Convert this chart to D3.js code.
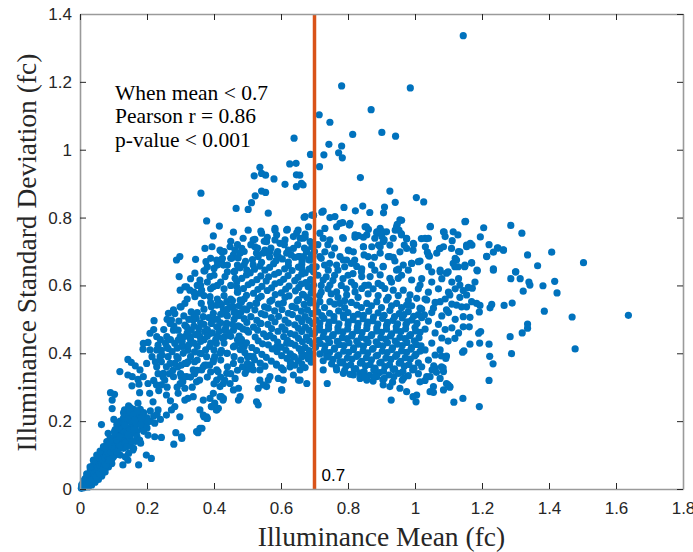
<!DOCTYPE html>
<html>
<head>
<meta charset="utf-8">
<script src="https://cdn.jsdelivr.net/npm/d3@7"></script>
<style>
  body { margin: 0; background: #fff; }
</style>
</head>
<body>
<svg id="chart" width="693" height="552"></svg>
<script>
// tick labels and annotation
var xTicks = [0, 0.2, 0.4, 0.6, 0.8, 1, 1.2, 1.4, 1.6, 1.8];
var yTicks = [0, 0.2, 0.4, 0.6, 0.8, 1, 1.2, 1.4];
var cutoff = 0.7;
var noteLines = ["When mean < 0.7", "Pearson r = 0.86", "p-value < 0.001"];

// [mean, sd], grouped by region
var wedgePts = [[0.004,0.002],[0.006,0.007],[0.005,0.012],[0.01,0.004],[0.011,0.011],[0.009,0.018],[0.015,0.006],[0.014,0.014],[0.016,0.022],[0.015,0.030],
  [0.02,0.008],[0.021,0.017],[0.019,0.026],[0.02,0.036],[0.025,0.012],[0.026,0.022],[0.024,0.032],[0.025,0.043],[0.03,0.015],[0.031,0.026],[0.029,0.037],[0.03,0.048],[0.031,0.058],
  [0.035,0.02],[0.036,0.031],[0.034,0.043],[0.035,0.055],[0.036,0.066],[0.04,0.022],[0.041,0.035],[0.039,0.048],[0.04,0.061],[0.041,0.073],[0.045,0.028],[0.046,0.04],[0.044,0.053],[0.045,0.067],[0.046,0.08],
  [0.05,0.03],[0.051,0.045],[0.049,0.059],[0.05,0.073],[0.051,0.087],[0.055,0.036],[0.056,0.05],[0.054,0.065],[0.055,0.08],[0.056,0.094],[0.06,0.04],[0.061,0.056],[0.059,0.071],[0.06,0.086],[0.061,0.1],
  [0.065,0.047],[0.066,0.062],[0.064,0.078],[0.065,0.093],[0.066,0.108],[0.07,0.052],[0.071,0.068],[0.069,0.084],[0.07,0.1],[0.071,0.115],[0.075,0.06],[0.076,0.076],[0.074,0.092],[0.075,0.107],
  [0.08,0.066],[0.081,0.083],[0.079,0.1],[0.08,0.116],[0.081,0.13],[0.085,0.075],[0.086,0.092],[0.084,0.108],[0.085,0.124],[0.09,0.08],[0.091,0.098],[0.089,0.115],[0.09,0.132],
  [0.095,0.088],[0.096,0.106],[0.094,0.123],[0.1,0.095],[0.101,0.113],[0.099,0.13],[0.1,0.147],
  [0.02,0.045],[0.03,0.065],[0.04,0.085],[0.05,0.1],[0.06,0.112],[0.07,0.125],[0.08,0.14],[0.09,0.15],[0.105,0.16],[0.11,0.125],[0.115,0.14],[0.105,0.1],[0.095,0.075],[0.085,0.065],
  [0.075,0.05],[0.065,0.038],[0.055,0.028],[0.045,0.02],[0.035,0.012],[0.025,0.006],[0.012,0.025],[0.008,0.009],[0.018,0.012],[0.028,0.02],[0.038,0.028],[0.048,0.036],[0.058,0.046],
  [0.068,0.057],[0.078,0.07],[0.088,0.085],[0.098,0.1],[0.108,0.115],[0.118,0.13],[0.125,0.145],[0.12,0.16]];

var lowMidPts = [[0.11,0.13],[0.12,0.14],[0.13,0.15],[0.10,0.15],[0.115,0.165],[0.125,0.175],[0.135,0.17],[0.145,0.18],[0.155,0.19],[0.165,0.185],[0.15,0.2],[0.16,0.21],[0.17,0.22],[0.14,0.22],
  [0.13,0.21],[0.12,0.2],[0.11,0.19],[0.175,0.2],[0.19,0.195],[0.185,0.18],[0.17,0.17],[0.155,0.165],[0.12,0.12],[0.105,0.135],[0.095,0.14],[0.14,0.14],[0.13,0.12],[0.15,0.13],[0.16,0.12],
  [0.12,0.1],[0.11,0.11],[0.135,0.095],[0.145,0.105],[0.2,0.21],[0.21,0.2],[0.22,0.215],[0.19,0.225],[0.18,0.235],[0.16,0.235],[0.145,0.245],
  [0.09,0.11],[0.1,0.12],[0.105,0.16],[0.115,0.145],[0.125,0.155],[0.13,0.165],[0.14,0.16],[0.15,0.175],[0.16,0.175],[0.165,0.195],[0.175,0.21],[0.18,0.19],[0.195,0.21],[0.185,0.22],
  [0.17,0.23],[0.155,0.22],[0.145,0.21],[0.135,0.2],[0.125,0.19],[0.115,0.18],[0.105,0.175],[0.13,0.225],[0.15,0.24],[0.21,0.23],[0.23,0.22],[0.24,0.205],[0.2,0.18],[0.19,0.17],
  [0.165,0.14],[0.15,0.15],[0.12,0.13],[0.135,0.135],[0.14,0.125],[0.155,0.14],[0.17,0.155],[0.095,0.125],[0.085,0.13],[0.075,0.12],[0.11,0.145]];

var lowPts = [[0.221,0.496],[0.203,0.432],[0.188,0.412],[0.143,0.382],[0.153,0.373],[0.165,0.363],[0.119,0.346],[0.143,0.336],[0.156,0.331],[0.173,0.323],[0.176,0.309],[0.155,0.304],
  [0.091,0.284],[0.103,0.279],[0.096,0.262],[0.096,0.237],[0.133,0.233],[0.148,0.228],[0.158,0.218],[0.173,0.253],[0.178,0.284],[0.064,0.190],[0.101,0.205],[0.113,0.194],[0.133,0.189],
  [0.163,0.203],[0.183,0.208],[0.203,0.198],[0.223,0.194],[0.084,0.164],[0.103,0.169],[0.118,0.154],[0.143,0.159],[0.178,0.144],[0.203,0.159],[0.223,0.154],[0.243,0.152],[0.181,0.135],
  [0.158,0.115],[0.198,0.100],[0.213,0.090],[0.175,0.071],[0.128,0.071],[0.143,0.085],[0.286,0.166],[0.304,0.149],[0.280,0.132],[0.352,0.166],[0.364,0.179],[0.370,0.213],[0.380,0.208],
  [0.392,0.243],[0.402,0.253],[0.422,0.272],[0.427,0.262],[0.407,0.233],[0.432,0.321],[0.412,0.346],[0.387,0.365],[0.402,0.390],[0.422,0.409],
  [0.293,0.282],[0.313,0.262],[0.322,0.267],[0.283,0.243],[0.258,0.277],[0.273,0.233],[0.298,0.213],[0.258,0.218],[0.233,0.233],[0.218,0.257],[0.208,0.282],[0.203,0.311],[0.228,0.307],
  [0.243,0.307],[0.253,0.321],[0.267,0.340],[0.277,0.350],[0.292,0.360],[0.302,0.365],[0.313,0.370],[0.322,0.375],[0.302,0.331],[0.313,0.297],[0.307,0.316],
  [0.233,0.424],[0.243,0.409],[0.263,0.414],[0.283,0.429],[0.293,0.439],[0.303,0.420],[0.322,0.409],[0.342,0.404],[0.362,0.399],[0.387,0.420],[0.407,0.429],[0.432,0.449],[0.432,0.468],
  [0.412,0.478],[0.392,0.488],[0.372,0.464],[0.352,0.459],[0.332,0.468],[0.313,0.483],[0.293,0.468],[0.273,0.498],[0.283,0.517],[0.302,0.537],[0.332,0.522],[0.347,0.503],[0.362,0.547],
  [0.392,0.537],[0.422,0.542],[0.437,0.513],[0.263,0.390],[0.243,0.375],[0.258,0.360],[0.233,0.340],[0.248,0.330],[0.342,0.340],[0.357,0.321],[0.372,0.365],[0.342,0.375],[0.293,0.385],[0.283,0.370],
  [0.264,0.518],[0.279,0.528],[0.299,0.537],[0.313,0.547],[0.328,0.586],[0.299,0.586],[0.313,0.596],[0.358,0.577],[0.358,0.616],[0.388,0.626],[0.398,0.596],[0.418,0.547],[0.458,0.537],
  [0.478,0.557],[0.498,0.528],[0.527,0.547],[0.537,0.488],[0.557,0.449],[0.587,0.419],[0.617,0.429],[0.637,0.390],[0.657,0.351],[0.607,0.321],[0.567,0.331],[0.517,0.390],[0.498,0.351],
  [0.458,0.370],[0.438,0.341],[0.418,0.302],[0.398,0.282],[0.368,0.262],[0.338,0.272],[0.358,0.233],[0.378,0.213],[0.408,0.233],[0.458,0.292],[0.473,0.262],[0.537,0.321],[0.557,0.302],
  [0.602,0.292],[0.677,0.311],[0.209,0.410],[0.229,0.410],[0.259,0.419],[0.239,0.390],[0.199,0.370],[0.179,0.351],[0.189,0.331],[0.229,0.360],[0.249,0.341],[0.269,0.370],[0.289,0.390],
  [0.308,0.400],[0.318,0.370],[0.279,0.331],[0.299,0.311],[0.318,0.331],[0.338,0.351],[0.358,0.400],[0.378,0.390],[0.398,0.380],[0.368,0.360],[0.408,0.351],[0.418,0.400],[0.438,0.400],
  [0.458,0.419],[0.478,0.429],[0.358,0.449],[0.388,0.459],[0.408,0.478],[0.438,0.488],[0.458,0.468],[0.478,0.478],[0.498,0.468],[0.398,0.518],[0.428,0.528],[0.448,0.537],[0.368,0.508],
  [0.338,0.498],[0.318,0.478],[0.328,0.449],[0.299,0.449],[0.279,0.468],[0.259,0.449],[0.269,0.488],[0.229,0.449],[0.209,0.459],[0.189,0.429],
  [0.378,0.790],[0.416,0.775],[0.398,0.746],[0.394,0.714],[0.373,0.709],[0.418,0.704],[0.448,0.714],[0.423,0.675],[0.458,0.690],[0.502,0.763],[0.487,0.739],[0.517,0.734],[0.542,0.754],
  [0.522,0.714],[0.557,0.729],[0.582,0.763],[0.582,0.734],[0.547,0.695],[0.562,0.695],[0.617,0.763],[0.612,0.734],[0.651,0.763],[0.637,0.744],[0.666,0.739],[0.676,0.699],[0.656,0.685],
  [0.617,0.695],[0.592,0.685],[0.288,0.675],[0.298,0.685],[0.345,0.677],[0.376,0.670],[0.370,0.643],[0.296,0.626],[0.343,0.636],
  [0.458,0.757],[0.483,0.709],[0.522,0.736],[0.540,0.760],[0.559,0.742],[0.582,0.768],[0.587,0.749],[0.619,0.765],[0.647,0.755],[0.682,0.773],[0.697,0.807],[0.672,0.742],[0.597,0.724],
  [0.552,0.704],[0.527,0.695],[0.567,0.699],[0.587,0.692],[0.622,0.704],[0.637,0.709],[0.652,0.685],[0.677,0.704],[0.692,0.714],[0.423,0.699],[0.408,0.675],[0.428,0.660],[0.453,0.680],
  [0.463,0.704],[0.478,0.695],[0.498,0.645],[0.517,0.660],[0.532,0.685],[0.373,0.643],[0.318,0.596],[0.363,0.586],[0.343,0.567],[0.388,0.567],[0.408,0.542],[0.438,0.552],[0.468,0.596],
  [0.433,0.626],[0.463,0.621],
  [0.308,0.331],[0.348,0.316],[0.363,0.351],[0.378,0.365],[0.398,0.375],[0.408,0.321],[0.428,0.311],[0.448,0.311],[0.463,0.326],[0.473,0.297],[0.478,0.272],[0.388,0.267],[0.393,0.243],
  [0.413,0.238],[0.418,0.272],[0.428,0.267],[0.368,0.218],[0.378,0.208],[0.348,0.169],[0.358,0.179],[0.303,0.154],[0.527,0.257],[0.532,0.248],[0.532,0.297],[0.547,0.307],[0.562,0.321],
  [0.537,0.351],[0.517,0.351],[0.512,0.365],[0.493,0.341],[0.592,0.326],[0.607,0.351],[0.602,0.292],[0.627,0.360],[0.652,0.321],[0.587,0.365],[0.637,0.336],
  [0.31,0.42],[0.33,0.44],[0.35,0.42],[0.37,0.44],[0.39,0.43],[0.41,0.45],[0.43,0.43],[0.45,0.45],[0.47,0.44],[0.49,0.42],[0.32,0.46],[0.34,0.48],[0.36,0.49],[0.38,0.47],[0.40,0.50],
  [0.42,0.49],[0.44,0.51],[0.46,0.50],[0.48,0.52],[0.35,0.52],[0.37,0.53],[0.39,0.55],[0.41,0.56],[0.43,0.57],[0.45,0.56],[0.47,0.58],[0.49,0.56],[0.44,0.40],[0.46,0.39],[0.48,0.38],
  [0.50,0.39],[0.42,0.38],[0.40,0.41],[0.33,0.39],[0.35,0.38],[0.45,0.60],[0.42,0.61],[0.44,0.64],[0.47,0.66],[0.40,0.63],[0.38,0.61],[0.36,0.60],[0.41,0.66],[0.39,0.68],[0.43,0.70],
  [0.45,0.73],[0.47,0.72],[0.49,0.70],[0.51,0.72],[0.53,0.71],[0.55,0.73],[0.57,0.71],[0.59,0.70],[0.61,0.72],[0.63,0.69],[0.65,0.72],[0.67,0.71],[0.69,0.69],
  [0.215,0.39],[0.225,0.375],[0.245,0.395],[0.255,0.43],[0.27,0.44],[0.275,0.405],[0.29,0.415],[0.305,0.435],[0.315,0.45],[0.325,0.425],[0.34,0.43],[0.345,0.455],[0.36,0.435],[0.375,0.41],
  [0.38,0.45],[0.395,0.46],[0.405,0.44],[0.415,0.465],[0.425,0.445],[0.435,0.475],[0.445,0.46],[0.455,0.485],[0.44,0.53],[0.46,0.52],[0.475,0.54],[0.455,0.555],[0.42,0.515],[0.41,0.5],
  [0.385,0.505],[0.37,0.485],[0.355,0.475],[0.34,0.51],[0.325,0.5],[0.31,0.51],[0.295,0.495],[0.28,0.48],[0.25,0.47],[0.24,0.44],[0.22,0.47],[0.26,0.5],[0.32,0.56],[0.34,0.58],[0.37,0.57],
  [0.39,0.59],[0.41,0.6],[0.43,0.59],[0.35,0.6],[0.33,0.62],[0.40,0.65],[0.38,0.655],[0.425,0.68],[0.44,0.66],[0.46,0.64],[0.45,0.68],
  [0.22,0.32],[0.235,0.29],[0.26,0.3],[0.27,0.26],[0.29,0.3],[0.3,0.34],[0.33,0.33],[0.335,0.3],[0.35,0.35],[0.38,0.33],[0.39,0.345],[0.4,0.31],[0.42,0.33],[0.44,0.36],[0.45,0.34],
  [0.47,0.35],[0.485,0.36],[0.5,0.37]];

var midPts = [[0.472,0.681],[0.515,0.676],[0.566,0.684],[0.604,0.678],[0.641,0.683],[0.683,0.676],[0.49,0.661],[0.537,0.657],[0.578,0.664],[0.622,0.658],[0.662,0.662],[0.694,0.655],
  [0.462,0.642],[0.508,0.637],[0.552,0.645],[0.593,0.638],[0.633,0.644],[0.672,0.637],[0.483,0.621],[0.528,0.617],[0.563,0.625],[0.608,0.618],[0.651,0.624],[0.688,0.617],
  [0.502,0.602],[0.543,0.597],[0.582,0.605],[0.624,0.598],[0.66,0.604],[0.681,0.596],[0.471,0.581],[0.518,0.577],[0.559,0.585],[0.601,0.578],[0.643,0.584],[0.69,0.577],
  [0.532,0.562],[0.573,0.557],[0.612,0.565],[0.652,0.558],[0.678,0.564],[0.507,0.541],[0.551,0.537],[0.592,0.545],[0.633,0.538],[0.669,0.544],
  [0.463,0.522],[0.541,0.517],[0.581,0.525],[0.622,0.518],[0.661,0.524],[0.692,0.517],[0.49,0.502],[0.528,0.497],[0.571,0.505],[0.612,0.498],[0.652,0.504],[0.683,0.497],
  [0.472,0.481],[0.518,0.477],[0.561,0.485],[0.603,0.478],[0.641,0.484],[0.673,0.477],[0.503,0.462],[0.548,0.457],[0.591,0.465],[0.628,0.458],[0.662,0.464],[0.693,0.457],
  [0.482,0.441],[0.532,0.437],[0.578,0.445],[0.619,0.438],[0.652,0.444],[0.684,0.437],[0.462,0.422],[0.513,0.417],[0.562,0.425],[0.601,0.418],[0.642,0.424],[0.672,0.417],
  [0.492,0.402],[0.543,0.397],[0.588,0.405],[0.628,0.398],[0.661,0.404],[0.693,0.397],[0.521,0.381],[0.571,0.377],[0.618,0.385],[0.652,0.378],[0.681,0.384],
  [0.552,0.362],[0.601,0.357],[0.641,0.365],[0.672,0.358],
  [0.494,0.671],[0.542,0.668],[0.585,0.673],[0.622,0.669],[0.663,0.672],[0.478,0.652],[0.521,0.648],[0.566,0.653],[0.611,0.649],[0.652,0.654],[0.684,0.648],
  [0.497,0.631],[0.54,0.628],[0.581,0.633],[0.621,0.629],[0.662,0.634],[0.468,0.611],[0.513,0.608],[0.556,0.613],[0.597,0.609],[0.641,0.614],[0.674,0.608],
  [0.488,0.591],[0.531,0.588],[0.572,0.593],[0.614,0.589],[0.653,0.594],[0.692,0.588],[0.497,0.571],[0.541,0.568],[0.583,0.573],[0.624,0.569],[0.664,0.574],
  [0.482,0.551],[0.525,0.548],[0.567,0.553],[0.607,0.549],[0.648,0.554],[0.687,0.548],[0.49,0.531],[0.522,0.528],[0.562,0.533],[0.603,0.529],[0.644,0.534],[0.679,0.528],
  [0.474,0.511],[0.51,0.508],[0.552,0.513],[0.593,0.509],[0.634,0.514],[0.672,0.508],[0.498,0.491],[0.54,0.488],[0.582,0.493],[0.622,0.489],[0.662,0.494],[0.694,0.488],
  [0.487,0.471],[0.53,0.468],[0.572,0.473],[0.612,0.469],[0.652,0.474],[0.684,0.468],[0.475,0.451],[0.523,0.448],[0.567,0.453],[0.608,0.449],[0.642,0.454],[0.676,0.448],
  [0.497,0.431],[0.545,0.428],[0.59,0.433],[0.63,0.429],[0.664,0.434],[0.694,0.428],[0.478,0.411],[0.527,0.408],[0.574,0.413],[0.615,0.409],[0.654,0.414],[0.684,0.408],
  [0.507,0.391],[0.556,0.388],[0.602,0.393],[0.64,0.389],[0.672,0.394],[0.538,0.371],[0.586,0.368],[0.628,0.373],[0.662,0.369],[0.69,0.374]];

var corePts = [[0.71,0.522],[0.745,0.518],[0.772,0.525],[0.80,0.52],[0.83,0.515],[0.862,0.524],[0.89,0.519],[0.925,0.526],[0.953,0.517],[0.98,0.523],[1.01,0.514],
  [0.705,0.498],[0.728,0.503],[0.758,0.497],[0.787,0.505],[0.815,0.499],[0.845,0.502],[0.874,0.496],[0.903,0.503],[0.934,0.497],[0.962,0.504],[0.99,0.498],[1.02,0.505],
  [0.715,0.478],[0.742,0.482],[0.77,0.476],[0.80,0.484],[0.828,0.477],[0.857,0.483],[0.886,0.475],[0.915,0.482],[0.944,0.478],[0.973,0.485],[1.00,0.476],
  [0.70,0.458],[0.728,0.462],[0.756,0.455],[0.785,0.463],[0.813,0.456],[0.842,0.461],[0.871,0.455],[0.90,0.462],[0.93,0.457],[0.958,0.464],[0.987,0.455],[1.015,0.462],
  [0.712,0.438],[0.74,0.442],[0.768,0.435],[0.797,0.443],[0.826,0.436],[0.855,0.441],[0.884,0.434],[0.912,0.442],[0.941,0.436],[0.97,0.443],[0.998,0.437],
  [0.703,0.418],[0.731,0.422],[0.76,0.415],[0.788,0.423],[0.817,0.416],[0.846,0.421],[0.875,0.414],[0.904,0.422],[0.933,0.416],[0.962,0.423],[0.99,0.417],[1.018,0.422],
  [0.716,0.398],[0.745,0.402],[0.773,0.395],[0.802,0.403],[0.83,0.396],[0.859,0.401],[0.888,0.394],[0.917,0.402],[0.946,0.396],[0.975,0.403],[1.003,0.397],
  [0.726,0.378],[0.755,0.382],[0.784,0.375],[0.812,0.383],[0.841,0.376],[0.87,0.381],[0.899,0.374],[0.928,0.382],[0.957,0.376],[0.986,0.383],
  [0.765,0.358],[0.794,0.362],[0.823,0.355],[0.852,0.363],[0.881,0.356],[0.91,0.361],[0.939,0.354],[0.968,0.362],[0.997,0.356],
  [0.806,0.338],[0.835,0.342],[0.864,0.335],[0.893,0.343],[0.922,0.336],[0.951,0.341],[0.98,0.334],[0.875,0.318],[0.904,0.322],[0.933,0.315],[0.962,0.321],
  [0.738,0.311],[0.657,0.321],[0.905,0.307],[0.925,0.302],[0.955,0.297],[0.975,0.287],[1.045,0.287],[1.055,0.302],[1.085,0.292],[1.104,0.302],[1.094,0.311],[0.856,0.321],
  [0.836,0.326],[0.816,0.336],[0.786,0.341],[0.766,0.351],[0.726,0.351],[0.886,0.331],[1.075,0.326],[1.085,0.346],[1.060,0.356],[1.035,0.331],[1.015,0.316],[0.776,0.375],
  [0.736,0.395],[0.687,0.390],[0.662,0.390],
  [0.722,0.511],[0.758,0.508],[0.786,0.513],[0.816,0.509],[0.846,0.512],[0.876,0.507],[0.908,0.512],[0.939,0.508],[0.967,0.514],[0.996,0.509],[1.028,0.513],
  [0.716,0.489],[0.744,0.492],[0.773,0.487],[0.801,0.493],[0.83,0.488],[0.859,0.492],[0.889,0.486],[0.918,0.491],[0.948,0.487],[0.977,0.493],[1.006,0.488],
  [0.714,0.469],[0.742,0.472],[0.77,0.466],[0.799,0.471],[0.827,0.467],[0.856,0.473],[0.886,0.466],[0.915,0.471],[0.944,0.468],[0.972,0.472],[1.002,0.466],[1.03,0.471],
  [0.726,0.449],[0.754,0.452],[0.783,0.446],[0.811,0.451],[0.84,0.447],[0.869,0.452],[0.898,0.446],[0.927,0.451],[0.955,0.447],[0.984,0.452],[1.012,0.446],
  [0.717,0.429],[0.745,0.432],[0.774,0.426],[0.803,0.431],[0.831,0.427],[0.86,0.432],[0.889,0.426],[0.918,0.431],[0.947,0.427],[0.976,0.432],[1.004,0.426],
  [0.73,0.409],[0.759,0.412],[0.787,0.406],[0.816,0.411],[0.845,0.407],[0.873,0.412],[0.902,0.406],[0.931,0.411],[0.96,0.407],[0.988,0.412],[1.015,0.406],
  [0.74,0.389],[0.769,0.392],[0.798,0.386],[0.826,0.391],[0.855,0.387],[0.884,0.392],[0.913,0.386],[0.942,0.391],[0.971,0.387],[0.999,0.392],
  [0.751,0.369],[0.779,0.372],[0.808,0.366],[0.837,0.371],[0.866,0.367],[0.895,0.372],[0.924,0.366],[0.953,0.371],[0.982,0.367],[1.01,0.372],
  [0.79,0.349],[0.819,0.352],[0.848,0.346],[0.877,0.351],[0.906,0.347],[0.935,0.352],[0.964,0.346],[0.993,0.351],[0.85,0.329],[0.879,0.332],[0.908,0.326],[0.937,0.331],[0.966,0.327]];

var upperPts = [[0.726,0.819],[0.697,0.807],[0.672,0.803],[0.746,0.800],[0.761,0.803],[0.776,0.783],[0.806,0.783],[0.766,0.773],[0.731,0.768],[0.716,0.754],[0.672,0.751],[0.657,0.739],
  [0.687,0.729],[0.726,0.739],[0.746,0.734],[0.786,0.739],[0.821,0.749],[0.851,0.773],[0.856,0.749],[0.886,0.758],[0.896,0.768],[0.915,0.758],[0.945,0.773],[0.955,0.793],[0.960,0.749],
  [0.975,0.739],[0.905,0.729],[0.896,0.714],[0.871,0.714],[0.846,0.714],[0.816,0.699],[0.801,0.704],[0.776,0.685],[0.751,0.690],[0.731,0.699],[0.716,0.685],[0.687,0.675],[0.667,0.685],
  [0.662,0.650],[0.697,0.640],[0.741,0.645],[0.766,0.660],[0.786,0.675],[0.826,0.656],[0.841,0.626],[0.866,0.626],[0.896,0.631],[0.905,0.656],[0.920,0.685],[0.955,0.699],[0.975,0.709],
  [0.995,0.724],[1.030,0.739],[1.040,0.739],[1.045,0.773],[1.085,0.758],[1.090,0.744],[1.114,0.758],[1.149,0.788],[1.154,0.719],[1.134,0.699],[1.109,0.709],[1.075,0.709],[1.065,0.695],
  [1.040,0.690],[1.010,0.670],[0.990,0.665],[0.965,0.660],[0.945,0.645],[0.925,0.621],[0.950,0.621],[0.990,0.616],[1.015,0.601],[1.050,0.640],[1.075,0.645],[1.099,0.640],[1.129,0.655],
  [1.149,0.660],[1.134,0.601],[1.104,0.572],[1.075,0.552],[1.035,0.557],[1.005,0.562],[0.985,0.572],[0.965,0.586],[0.935,0.586],[0.910,0.591],[0.890,0.606],[0.861,0.601],[0.841,0.591],
  [0.821,0.581],[0.796,0.572],[0.766,0.581],[0.746,0.601],[0.726,0.616],[0.697,0.601],[0.677,0.606],[0.667,0.572],[0.687,0.557],[0.716,0.552],[0.746,0.552],[0.776,0.547],[0.826,0.542],
  [0.856,0.547],[0.886,0.552],[0.915,0.557],[0.945,0.547],[0.975,0.542],[1.015,0.533],[1.055,0.533],[1.094,0.528],[1.124,0.542],[1.154,0.572],
  [0.896,0.763],[0.904,0.758],[0.886,0.754],[0.901,0.744],[0.880,0.739],[0.908,0.734],[0.891,0.719],[0.925,0.719],[0.896,0.695],[0.879,0.683],[0.905,0.655],[0.925,0.685],[0.935,0.683],
  [0.940,0.672],[0.855,0.773],[0.861,0.765],[0.846,0.742],[0.831,0.747],[0.821,0.742],[0.846,0.714],[0.848,0.690],[0.803,0.702],[0.804,0.778],[0.784,0.785],[0.784,0.741],[0.796,0.675],[0.841,0.649],
  [0.72,0.58],[0.75,0.575],[0.78,0.60],[0.81,0.61],[0.84,0.64],[0.87,0.66],[0.80,0.63],[0.76,0.63],[0.73,0.66],[0.71,0.63],[0.79,0.555],[0.83,0.565],[0.86,0.575],[0.89,0.57],[0.92,0.565],
  [0.95,0.57],[0.98,0.555],[0.93,0.61],[0.96,0.63],[0.88,0.645],[0.86,0.685],[0.82,0.675],[0.76,0.71],[0.74,0.72],[0.70,0.70],[0.71,0.72],
  [0.705,0.54],[0.73,0.535],[0.76,0.545],[0.79,0.535],[0.81,0.55],[0.84,0.535],[0.87,0.54],[0.9,0.535],[0.93,0.54],[0.96,0.535],[0.99,0.54],[0.715,0.57],[0.74,0.59],[0.77,0.565],
  [0.795,0.59],[0.82,0.6],[0.85,0.6],[0.875,0.59],[0.9,0.6],[0.72,0.6],[0.735,0.625],[0.755,0.615],[0.785,0.62],[0.815,0.635],[0.77,0.645],[0.745,0.665],[0.72,0.68],[0.705,0.655],
  [0.79,0.655],[0.81,0.665]];

var rightPts = [[1.151,0.789],[1.286,0.777],[1.319,0.754],[1.205,0.770],[1.046,0.774],[1.408,0.698],[1.503,0.667],[1.336,0.690],[1.366,0.658],[1.264,0.705],[1.248,0.710],[1.221,0.720],
  [1.195,0.743],[1.234,0.649],[1.301,0.640],[1.214,0.686],[1.185,0.645],[1.149,0.657],[1.169,0.667],[1.165,0.724],[1.154,0.714],[1.170,0.719],[1.128,0.749],[1.111,0.732],[1.13,0.70],
  [1.12,0.68],[1.087,0.757],[1.073,0.708],[1.085,0.714],[1.035,0.738],[1.019,0.738],[1.031,0.714],[1.037,0.698],[1.043,0.686],[0.996,0.721],[0.994,0.704],[0.968,0.719],[0.975,0.737],
  [0.960,0.792],[0.947,0.780],[0.941,0.763],[0.952,0.763],[0.959,0.753],[0.935,0.739],
  [1.637,0.512],[1.469,0.507],[1.478,0.413],[1.417,0.612],[1.424,0.578],[1.382,0.599],[1.386,0.524],[1.340,0.610],[1.343,0.601],[1.323,0.583],[1.314,0.620],[1.290,0.548],[1.266,0.541],
  [1.336,0.486],[1.336,0.474],[1.320,0.460],[1.284,0.449],[1.288,0.399],[1.221,0.427],[1.223,0.391],[1.233,0.369],[1.221,0.320],[1.192,0.243],[1.143,0.267],[1.116,0.256],[1.104,0.300],
  [1.099,0.307],[1.003,0.257],[1.005,0.277],[0.994,0.272],[0.929,0.262],[1.193,0.430],[1.190,0.459],[1.196,0.464],[1.224,0.534],[1.229,0.544],[1.194,0.541],[1.234,0.645],[1.300,0.640],
  [1.286,0.620],[1.164,0.427],[1.146,0.407],[1.142,0.403],[1.119,0.444],[1.099,0.436],[1.075,0.410],[1.079,0.392],[1.094,0.392],[1.092,0.385],[1.079,0.360],[1.056,0.363],[1.051,0.351],
  [1.064,0.344],[1.045,0.331],[1.055,0.285],[1.084,0.357],
  [1.246,0.711],[1.264,0.704],[1.234,0.698],[1.214,0.685],[1.169,0.666],[1.148,0.655],[1.186,0.643],[1.179,0.610],[1.171,0.592],[1.159,0.594],[1.144,0.585],[1.134,0.565],[1.154,0.537],
  [1.139,0.537],[1.169,0.552],[1.184,0.547],[1.192,0.522],[1.144,0.508],[1.164,0.506],[1.144,0.478],[1.162,0.478],
  [1.075,0.640],[1.094,0.636],[1.114,0.665],[1.119,0.655],[1.124,0.675],[0.951,0.648],[0.990,0.665],[1.015,0.672],[1.040,0.655],[0.980,0.645],
  [1.02,0.62],[1.05,0.61],[1.08,0.62],[1.11,0.61],[1.13,0.62],[1.01,0.59],[1.04,0.58],[1.07,0.59],[1.10,0.58],[1.12,0.59],[1.03,0.56],[1.06,0.55],[1.09,0.56],[1.11,0.545],[1.02,0.53],
  [1.05,0.52],[1.08,0.51],[1.10,0.52],[1.12,0.50],[1.04,0.495],[1.07,0.485],[1.09,0.47],[1.11,0.475],[1.13,0.46],[1.06,0.46],[1.08,0.445],[1.05,0.43],[1.03,0.41],[1.06,0.395],[1.04,0.38],
  [1.02,0.36],[1.01,0.34],[1.03,0.32]];

var topPts = [[1.144,1.336],[0.781,1.188],[0.986,1.182],[0.869,1.118],[0.714,1.103],[0.746,1.081],[0.814,1.045],[0.901,1.051],[0.942,1.040],[0.639,1.034],[0.743,1.016],[0.781,1.011],
  [0.783,0.976],[0.772,0.991],[0.688,0.986],[0.728,0.985],[0.715,0.950],[0.626,0.958],[0.645,0.960],[0.646,0.926],[0.656,0.925],[0.646,0.891],[0.666,0.896],[0.661,0.901],[0.612,0.898],
  [0.537,0.948],[0.542,0.930],[0.554,0.925],[0.520,0.923],[0.579,0.914],[0.542,0.878],[0.554,0.874],[0.523,0.864],[0.512,0.844],[0.502,0.824],[0.466,0.827],[0.361,0.872],[0.837,0.918],
  [0.925,0.878],[1.004,0.859],[1.026,0.846],[0.941,0.845],[0.788,0.830],[0.844,0.834],[0.822,0.820],[0.865,0.815],[0.909,0.831],[0.906,0.814],[0.562,0.813],[0.669,0.801],[0.692,0.807],[0.722,0.816]];

var svg = d3.select("#chart");

var x = d3.scaleLinear().domain([0, 1.8]).range([80, 683]);
var y = d3.scaleLinear().domain([0, 1.4]).range([489, 14]);

var fmt = function(d) { return String(+d.toFixed(1)); };

svg.append("rect")
    .attr("width", 693)
    .attr("height", 552)
    .attr("fill", "#ffffff");

// scatter
var allPts = [].concat(wedgePts, lowMidPts, lowPts, midPts, corePts, upperPts, rightPts, topPts);
svg.append("g")
    .selectAll("circle")
    .data(allPts)
    .enter()
    .append("circle")
    .attr("cx", function(d) { return x(d[0]); })
    .attr("cy", function(d) { return y(d[1]); })
    .attr("r", 3.6)
    .attr("fill", "#0072BD");

// cutoff line
svg.append("line")
    .attr("x1", x(cutoff))
    .attr("x2", x(cutoff))
    .attr("y1", y(1.4))
    .attr("y2", y(0))
    .attr("stroke", "#D95319")
    .attr("stroke-width", 3.5);

svg.append("text")
    .attr("x", x(cutoff) + 7)
    .attr("y", 481)
    .attr("font-family", "Liberation Sans, Arial, sans-serif")
    .attr("font-size", "17px")
    .attr("fill", "#000")
    .text(String(cutoff));

// axes, box style
var axisBottom = svg.append("g")
    .attr("transform", "translate(0,489)")
    .call(d3.axisBottom(x).tickValues(xTicks).tickFormat(fmt).tickSize(-6).tickSizeOuter(0).tickPadding(13));
var axisLeft = svg.append("g")
    .attr("transform", "translate(80,0)")
    .call(d3.axisLeft(y).tickValues(yTicks).tickFormat(fmt).tickSize(-6).tickSizeOuter(0).tickPadding(8));
var axisTop = svg.append("g")
    .attr("transform", "translate(0,14)")
    .call(d3.axisTop(x).tickValues(xTicks).tickFormat("").tickSize(-6).tickSizeOuter(0));
var axisRight = svg.append("g")
    .attr("transform", "translate(683,0)")
    .call(d3.axisRight(y).tickValues(yTicks).tickFormat("").tickSize(-6).tickSizeOuter(0));

[axisBottom, axisLeft, axisTop, axisRight].forEach(function(g) {
    g.select(".domain").attr("stroke", "#9a9a9a").attr("stroke-width", 1.6);
    g.selectAll(".tick line").attr("stroke", "#262626");
    g.selectAll(".tick text")
        .attr("fill", "#262626")
        .style("font-family", "Liberation Sans, Arial, sans-serif")
        .style("font-size", "17px");
});

// axis titles
svg.append("text")
    .attr("x", 381.5)
    .attr("y", 546)
    .attr("text-anchor", "middle")
    .attr("font-family", "Liberation Serif, Times New Roman, serif")
    .attr("font-size", "27.5px")
    .attr("fill", "#262626")
    .text("Illuminance Mean (fc)");

svg.append("text")
    .attr("transform", "translate(36,252.5) rotate(-90)")
    .attr("text-anchor", "middle")
    .attr("font-family", "Liberation Serif, Times New Roman, serif")
    .attr("font-size", "27.5px")
    .attr("fill", "#262626")
    .text("Illuminance Standard Deviation (fc)");

// note
svg.append("g")
    .selectAll("text")
    .data(noteLines)
    .enter()
    .append("text")
    .attr("x", 115)
    .attr("y", function(d, i) { return 100 + i * 23.4; })
    .attr("font-family", "Liberation Serif, Times New Roman, serif")
    .attr("font-size", "21.5px")
    .attr("fill", "#000")
    .text(function(d) { return d; });
</script>
</body>
</html>
